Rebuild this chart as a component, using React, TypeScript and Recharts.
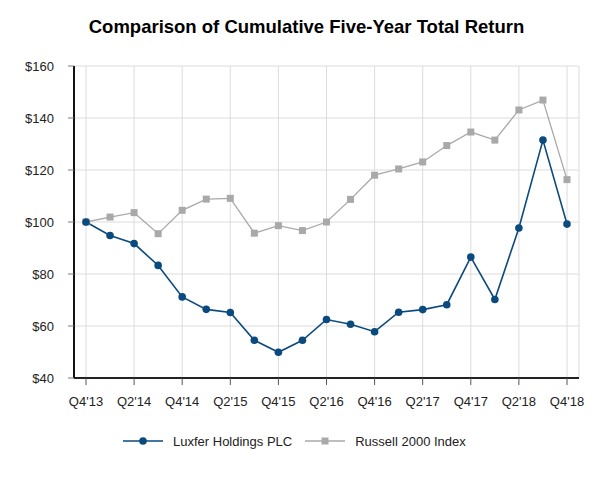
import React from "react";
import {
  CartesianGrid,
  Line,
  LineChart,
  XAxis,
  YAxis,
} from "recharts";

const quarters = [
  "Q4'13", "Q1'14", "Q2'14", "Q3'14", "Q4'14", "Q1'15", "Q2'15", "Q3'15",
  "Q4'15", "Q1'16", "Q2'16", "Q3'16", "Q4'16", "Q1'17", "Q2'17", "Q3'17",
  "Q4'17", "Q1'18", "Q2'18", "Q3'18", "Q4'18",
];

const luxfer = [
  100, 94.8, 91.7, 83.3, 71.2, 66.4, 65.2, 54.5, 49.9, 54.5, 62.5, 60.7,
  57.8, 65.3, 66.3, 68.2, 86.5, 70.2, 97.7, 131.5, 99.2,
];

const russell = [
  100, 101.9, 103.6, 95.5, 104.5, 108.8, 109.1, 95.7, 98.6, 96.7, 100, 108.7,
  118, 120.4, 123.1, 129.4, 134.6, 131.5, 143.1, 146.9, 116.3,
];

const xTicks = [
  "Q4'13", "Q2'14", "Q4'14", "Q2'15", "Q4'15", "Q2'16", "Q4'16", "Q2'17",
  "Q4'17", "Q2'18", "Q4'18",
];

const yTicks = [40, 60, 80, 100, 120, 140, 160];

const data = quarters.map((q, i) => ({
  quarter: q,
  luxfer: luxfer[i],
  russell: russell[i],
}));

const BLUE = "#0b4a7e";
const GRAY = "#a9a9a9";
const FONT = "'Liberation Sans', Arial, sans-serif";

const SquareDot = (props: any) => {
  const { cx, cy } = props;
  if (cx == null || cy == null) return null;
  return <rect x={cx - 3.5} y={cy - 3.5} width={7} height={7} fill={GRAY} />;
};

export default function App() {
  return (
    <div
      style={{
        position: "absolute",
        left: 0,
        top: 0,
        width: 613,
        height: 480,
        background: "#fff",
        fontFamily: FONT,
      }}
    >
      <div
        style={{
          position: "absolute",
          top: 16,
          left: 0,
          width: 613,
          textAlign: "center",
          fontSize: 18.5,
          fontWeight: "bold",
          color: "#000",
        }}
      >
        Comparison of Cumulative Five-Year Total Return
      </div>
      <LineChart
        width={613}
        height={480}
        data={data}
        margin={{ top: 66, right: 34, bottom: 72, left: 10 }}
      >
        <CartesianGrid stroke="#dcdcdc" strokeWidth={1} />
        <XAxis
          dataKey="quarter"
          ticks={xTicks}
          interval={0}
          padding={{ left: 12, right: 12 }}
          height={30}
          axisLine={{ stroke: "#222", strokeWidth: 2 }}
          tickLine={{ stroke: "#555" }}
          tickSize={7}
          tickMargin={12}
          tick={{ fill: "#222", fontSize: 13, fontFamily: FONT }}
        />
        <YAxis
          domain={[40, 160]}
          ticks={yTicks}
          width={64}
          axisLine={{ stroke: "#111", strokeWidth: 2 }}
          tickLine={{ stroke: "#777" }}
          tickSize={6}
          tickMargin={14}
          tickFormatter={(v: number) => `$${v}`}
          tick={{ fill: "#222", fontSize: 13, fontFamily: FONT }}
        />
        <Line
          dataKey="russell"
          stroke={GRAY}
          strokeWidth={1.3}
          dot={<SquareDot />}
          activeDot={false}
          isAnimationActive={false}
        />
        <Line
          dataKey="luxfer"
          stroke={BLUE}
          strokeWidth={1.6}
          dot={{ r: 3.8, fill: BLUE, stroke: BLUE, strokeWidth: 0 }}
          activeDot={false}
          isAnimationActive={false}
        />
      </LineChart>
      <div
        style={{
          position: "absolute",
          top: 432,
          left: 123,
          display: "flex",
          alignItems: "center",
          fontSize: 13,
          color: "#222",
          whiteSpace: "nowrap",
        }}
      >
        <svg width={40} height={18} style={{ marginRight: 10 }}>
          <line x1={0} y1={9} x2={40} y2={9} stroke={BLUE} strokeWidth={1.6} />
          <circle cx={20} cy={9} r={3.8} fill={BLUE} />
        </svg>
        <span style={{ marginRight: 13 }}>Luxfer Holdings PLC</span>
        <svg width={40} height={18} style={{ marginRight: 10 }}>
          <line x1={0} y1={9} x2={40} y2={9} stroke={GRAY} strokeWidth={1.3} />
          <rect x={16.5} y={5.5} width={7} height={7} fill={GRAY} />
        </svg>
        <span>Russell 2000 Index</span>
      </div>
    </div>
  );
}
